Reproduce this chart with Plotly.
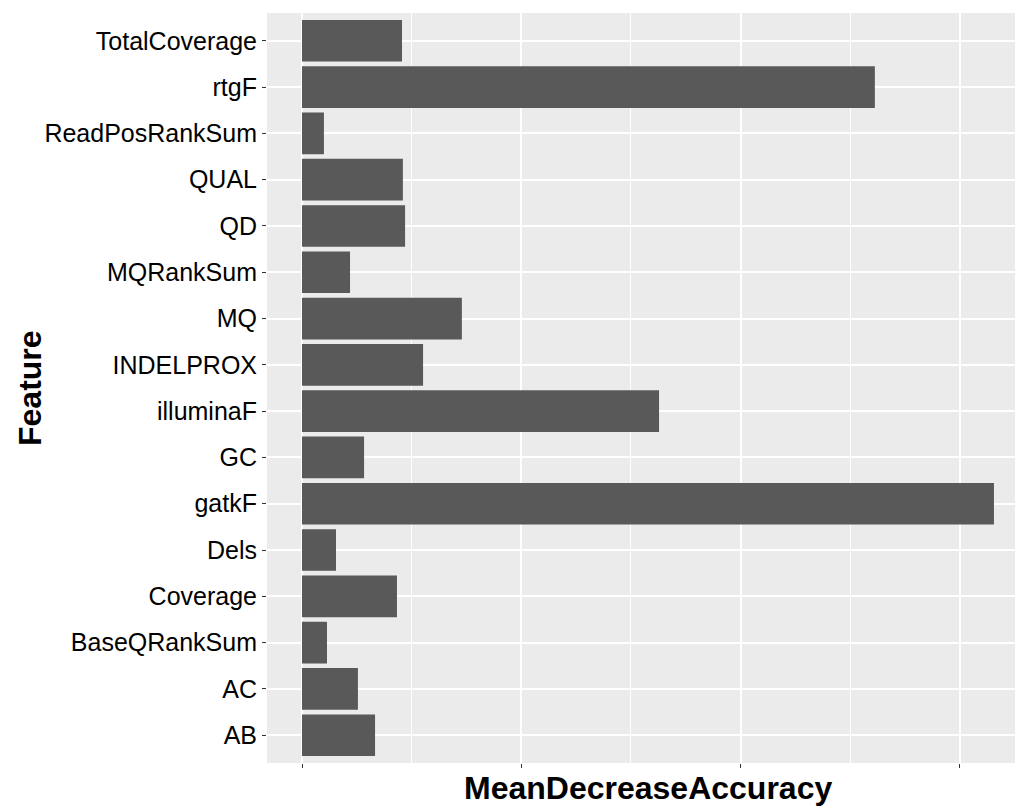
import plotly.graph_objects as go

features = ["AB", "AC", "BaseQRankSum", "Coverage", "Dels", "gatkF", "GC",
            "illuminaF", "INDELPROX", "MQ", "MQRankSum", "QD", "QUAL",
            "ReadPosRankSum", "rtgF", "TotalCoverage"]
mean_decrease_accuracy = [3.33, 2.55, 1.14, 4.33, 1.55, 31.55, 2.83,
                          16.28, 5.52, 7.29, 2.19, 4.70, 4.60,
                          1.00, 26.12, 4.56]
x_ticks = [0, 10, 20, 30]

fig = go.Figure()
fig.add_trace(go.Bar(
    x=mean_decrease_accuracy, y=features, orientation="h",
    marker=dict(color="#595959", line=dict(width=0)),
    width=0.9,
))

fig.update_layout(
    width=1015, height=806,
    margin=dict(l=267, r=0, t=13, b=43),
    paper_bgcolor="white", plot_bgcolor="#EBEBEB",
    showlegend=False,
    font=dict(family="Liberation Sans, Arial, sans-serif", color="black"),
)
fig.update_xaxes(
    range=[-1.596, 32.51], tickvals=x_ticks, showticklabels=False,
    ticks="outside", ticklen=4, tickwidth=1, tickcolor="#333333",
    showgrid=True, gridcolor="white", gridwidth=1.5,
    minor=dict(dtick=5, tick0=0, showgrid=True, gridcolor="white", gridwidth=0.8, ticks=""),
    zeroline=False, showline=False,
)
fig.update_yaxes(
    type="category", categoryorder="array", categoryarray=features,
    range=[-0.6, 15.6],
    ticks="outside", ticklen=4, tickwidth=1, tickcolor="#333333",
    tickfont=dict(size=25, color="black"),
    showgrid=True, gridcolor="white", gridwidth=1.5,
    zeroline=False, showline=False,
)
fig.add_annotation(
    text="<b>MeanDecreaseAccuracy</b>", xref="paper", yref="paper",
    x=(648 - 267) / (1015 - 267), y=-(788 - 763) / (763 - 13),
    xanchor="center", yanchor="middle", showarrow=False,
    font=dict(size=32, color="black"),
)
fig.add_annotation(
    text="<b>Feature</b>", xref="paper", yref="paper",
    x=-(267 - 30) / (1015 - 267), y=0.5,
    xanchor="center", yanchor="middle", showarrow=False, textangle=-90,
    font=dict(size=32, color="black"),
)

fig.write_html("out.html", config={"displayModeBar": False},
               post_script="document.body.style.margin='0';document.body.style.overflow='hidden';")
